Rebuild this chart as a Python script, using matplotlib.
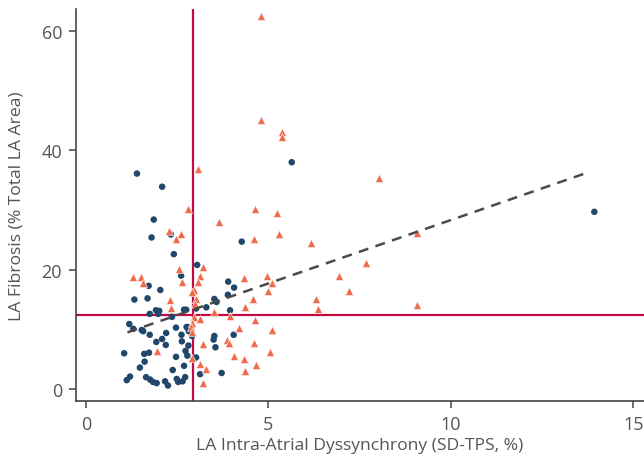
import matplotlib
matplotlib.use("Agg")
import matplotlib.pyplot as plt

plt.rcParams['font.family'] = ['Open Sans', 'DejaVu Sans']

# group 1 (circles): SD-TPS (%) and LA fibrosis (%)
circle_x = [1.40, 2.09, 1.86, 2.33, 1.80, 2.41, 2.61, 1.72, 2.04, 1.33,
            1.69, 1.92, 2.01, 1.98, 1.75, 2.69, 2.36, 1.19, 1.30, 1.53,
            1.57, 1.75, 2.20, 2.47, 2.76, 2.09, 2.62, 1.93, 2.19, 2.63,
            2.81, 1.05, 1.60, 1.73, 2.47, 2.78, 2.73, 1.61, 1.48, 2.38,
            2.69, 1.21, 1.12, 1.65, 1.76, 1.84, 1.94, 2.17, 2.25, 2.49,
            2.53, 2.65, 2.72, 3.90, 4.06, 3.89, 3.52, 3.58, 3.30, 3.02,
            2.75, 3.95, 2.79, 2.82, 2.91, 3.52, 3.50, 4.05, 3.55, 3.02,
            3.72, 3.13, 4.27, 3.05, 5.64, 13.93]
circle_y = [36.1, 33.9, 28.4, 25.9, 25.4, 22.6, 19.0, 17.3, 16.6, 15.0,
            15.2, 13.2, 13.1, 12.6, 12.6, 13.3, 12.1, 10.9, 10.1, 9.9,
            9.7, 9.1, 9.4, 10.3, 10.4, 8.4, 9.1, 7.9, 7.4, 8.0,
            7.3, 6.0, 5.9, 6.1, 5.4, 5.6, 6.4, 4.6, 3.6, 3.2,
            3.9, 2.1, 1.5, 2.0, 1.6, 1.2, 1.0, 1.3, 0.6, 1.7,
            1.2, 1.3, 2.0, 18.0, 17.0, 15.8, 15.1, 14.6, 13.7, 13.5,
            13.3, 13.2, 10.4, 9.7, 8.9, 8.9, 8.3, 9.1, 7.0, 5.3,
            2.7, 2.5, 24.7, 20.8, 38.0, 29.7]

# group 2 (triangles)
tri_x = [2.79, 2.27, 2.61, 2.47, 2.55, 1.30, 1.51, 1.57, 2.64, 2.30,
         2.32, 1.95, 3.12, 3.06, 4.34, 4.96, 5.09, 2.97, 2.90, 4.58,
         3.03, 2.99, 4.36, 3.50, 3.96, 2.95, 3.12, 4.63, 2.91, 2.88,
         4.19, 5.10, 3.88, 3.92, 3.22, 4.61, 5.05, 2.91, 4.06, 4.34,
         3.12, 4.67, 3.28, 4.36, 3.22, 3.06, 4.64, 5.24, 3.65, 4.61,
         5.30, 3.21, 4.79, 4.79, 5.38, 5.38, 8.04, 9.06, 6.17, 7.67,
         6.93, 4.99, 7.20, 6.30, 6.37, 9.06, 2.90]
tri_y = [30.2, 26.4, 25.9, 25.1, 20.2, 18.8, 18.8, 17.7, 18.0, 14.9,
         13.6, 6.4, 19.0, 18.0, 18.6, 19.0, 17.7, 16.6, 16.2, 15.1,
         15.1, 14.2, 13.7, 12.9, 12.3, 12.0, 11.8, 11.6, 11.1, 10.4,
         10.3, 9.9, 8.3, 7.8, 7.5, 7.8, 6.2, 5.2, 5.6, 5.0,
         4.2, 4.1, 3.4, 3.1, 1.1, 36.9, 30.2, 29.5, 28.0, 25.2,
         26.0, 20.5, 62.5, 45.1, 43.0, 42.2, 35.4, 26.1, 24.5, 21.1,
         19.0, 16.5, 16.5, 15.1, 13.5, 14.1, 9.5]

# cut-offs and regression line
cut_x = 2.93
cut_y = 12.35
fit_x = [1.14, 13.65]
slope = 2.124
intercept = 7.08
fit_y = [intercept + slope * v for v in fit_x]

navy = "#21476b"
coral = "#ef6b4e"
crimson = "#c20a43"
grey = "#555555"

fig = plt.figure(figsize=(6.44, 4.60), dpi=100)
ax = fig.add_axes([0.118, 0.126, 0.882, 0.852])

ax.axvline(cut_x, color=crimson, lw=1.6, zorder=1)
ax.axhline(cut_y, color=crimson, lw=1.6, zorder=1)

ax.scatter(circle_x, circle_y, s=22, marker="o", color=navy,
           edgecolors="none", zorder=3)
ax.scatter(tri_x, tri_y, s=34, marker="^", color=coral,
           edgecolors="white", linewidths=0.4, zorder=3)

ax.plot(fit_x, fit_y, color="#4a4a4a", lw=1.8, ls=(0, (4, 3)), zorder=4)

ax.set_xlim(-0.27, 15.29)
ax.set_ylim(-2.0, 63.65)
ax.set_xticks([0, 5, 10, 15])
ax.set_yticks([0, 20, 40, 60])

for side in ["top", "right"]:
    ax.spines[side].set_visible(False)
for side in ["left", "bottom"]:
    ax.spines[side].set_color("#444444")
    ax.spines[side].set_linewidth(1.2)

ax.tick_params(axis="both", direction="out", length=5, width=1.1,
               color="#444444", labelsize=13, labelcolor=grey, pad=5)

ax.set_xlabel("LA Intra-Atrial Dyssynchrony (SD-TPS, %)", fontsize=12.6,
              color=grey, labelpad=3)
ax.set_ylabel("LA Fibrosis (% Total LA Area)", fontsize=12.6,
              color=grey, labelpad=12)

fig.savefig("out.png", dpi=100)
